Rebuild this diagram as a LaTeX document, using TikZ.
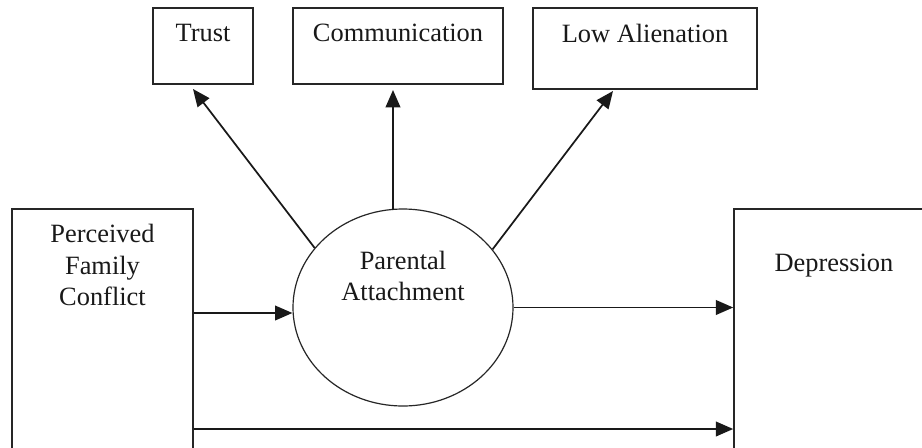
\documentclass[tikz,border=0pt]{standalone}
\usepackage{fontspec}
\setmainfont{Liberation Serif}
\usetikzlibrary{shapes.geometric,arrows.meta}
\begin{document}
\begin{tikzpicture}[x=0.75pt,y=-0.75pt,
  box/.style={draw=black!85, line width=1.2pt, inner sep=0pt},
  txt/.style={font=\fontsize{19.8}{23.6}\selectfont, text=black!90, inner sep=0pt, align=center},
  arr/.style={draw=black!90, line width=1.3pt, -{Triangle[length=13pt,width=11pt]}}]
\useasboundingbox (0,0) rectangle (922,447);
\clip (0,0) rectangle (922,447);
\fill[white] (0,0) rectangle (922,447);
% boxes
\node[box, minimum width=75pt, minimum height=57pt] (trust) at (203,46) {};
\node[box, minimum width=157.5pt, minimum height=57pt] (comm) at (398,46) {};
\node[box, minimum width=168pt, minimum height=60.75pt] (low) at (645,48.5) {};
\node[box, minimum width=135.75pt, minimum height=195.75pt] (pfc) at (102.5,339.5) {};
\node[box, minimum width=154.5pt, minimum height=195.75pt] (dep) at (837,339.5) {};
\node[draw=black!85, line width=0.9pt, ellipse, inner sep=0pt, minimum width=165pt, minimum height=147.75pt] (pa) at (403,307.5) {};
% texts
\node[txt] (trustt) at (203,33) {Trust};
\node[txt] (commt) at (398,33) {Communication};
\node[txt] (lowt) at (645,33) {Low Alienation};
\node[txt] (pfct) at (102.5,265) {Perceived\\Family\\Conflict};
\node[txt] (dept) at (834,266) {Depression};
\node[txt] (pat) at (403,276) {Parental\\Attachment};
% coordinates
\coordinate (ttip) at (193,89);
\coordinate (ltip) at (613,91);
\coordinate (cbase) at (393,210);
\coordinate (ctip) at (393,90);
\coordinate (y1) at (0,313);
\coordinate (y2) at (0,429);
% arrows
\draw[arr] (pa.146.5) -- (ttip);
\draw[arr] (pa.33.5) -- (ltip);
\draw[arr] (cbase) -- (ctip);
\draw[arr] (pfc.east |- y1) -- (pa.west |- y1);
\draw[arr] (pa.east) -- (pa.east -| dep.west);
\draw[arr] (pfc.east |- y2) -- (dep.west |- y2);
\end{tikzpicture}
\end{document}
